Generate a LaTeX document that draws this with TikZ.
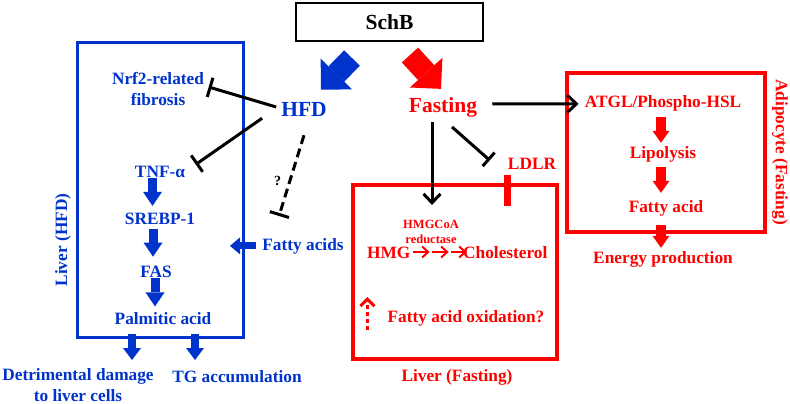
\documentclass[tikz,border=0pt]{standalone}
\usepackage{fontspec}
\setmainfont{Liberation Serif}
\usetikzlibrary{arrows.meta,calc}
\definecolor{hblue}{HTML}{0033CC}
\definecolor{fred}{HTML}{FF0000}
\begin{document}
\begin{tikzpicture}[x=1pt,y=-1pt,
  lbl/.style={inner sep=1pt, font=\fontsize{17.3}{20.4}\selectfont\bfseries},
  blbl/.style={lbl, text=hblue},
  rlbl/.style={lbl, text=fred},
  big/.style={inner sep=1pt, font=\fontsize{21.5}{25}\selectfont\bfseries},
  frame/.style={line width=#1, inner sep=0pt, outer sep=0pt},
  fatdiag/.style={line width=22pt, -{Triangle[length=22pt,width=44pt,line width=0pt]}},
  fatv/.style={hblue, line width=9pt, -{Triangle[length=14pt,width=19pt,line width=0pt]}},
  fath/.style={hblue, line width=7pt, -{Triangle[length=10pt,width=17pt,line width=0pt]}},
  fatd/.style={hblue, line width=8pt, -{Triangle[length=12pt,width=18pt,line width=0pt]}},
  fatr/.style={fred, line width=10pt, -{Triangle[length=12pt,width=17pt,line width=0pt]}},
  inhib/.style={black, line width=3pt, -{Bar[width=20pt]}},
  actarr/.style={black, line width=3pt, -{Straight Barb[length=9pt,width=17pt]}},
  hmgarr/.style={fred, line width=2pt, -{Straight Barb[length=6pt,width=11pt]}},
]
\useasboundingbox (0,0) rectangle (790,404);

% boxes
\node[frame=2pt, draw=black, minimum width=187pt, minimum height=38pt,
      font=\fontsize{21.5}{25}\selectfont\bfseries] (schb) at (389.5,22) {SchB};
\node[frame=3pt, draw=hblue, minimum width=166pt, minimum height=294pt] (lhfd) at (160,190) {};
\node[frame=3.5pt, draw=fred, minimum width=204pt, minimum height=174pt] (lfast) at (455,272) {};
\node[frame=4pt, draw=fred, minimum width=198pt, minimum height=159pt] (adipo) at (666,152.5) {};

% HFD side
\node[big, text=hblue, anchor=base] (hfd) at (304,116) {HFD};
\node[blbl, anchor=base, align=center] (nrf) at (158,105) {Nrf2-related\\fibrosis};
\node[blbl, anchor=base] (tnf) at (160,177) {TNF-α};
\node[blbl, anchor=base] (srebp) at (160,224) {SREBP-1};
\node[blbl, anchor=base] (fas) at (156,277) {FAS};
\node[blbl, anchor=base] (palm) at (163,324) {Palmitic acid};
\node[blbl, anchor=base] (fa) at (303,250) {Fatty acids};
\node[blbl, rotate=90] (lhfdlbl) at (63,240) {Liver (HFD)};
\node[blbl, anchor=base, align=center] (detr) at (78,401) {Detrimental damage\\to liver cells};
\node[blbl, anchor=base] (tg) at (237,382) {TG accumulation};
\node[font=\fontsize{14}{16}\selectfont\bfseries, inner sep=1pt, anchor=base] (q) at (277.5,185) {?};
\coordinate (dashend) at (279,216);

% Fasting side
\node[big, text=fred, anchor=base] (fast) at (443,112) {Fasting};
\node[rlbl, anchor=base] (ldlr) at (532,169) {LDLR};
\node[rlbl, anchor=base, align=center, font=\fontsize{12.5}{15}\selectfont\bfseries] (hmgcoa) at (431,243) {HMGCoA\\reductase};
\node[rlbl, anchor=base west] (hmg) at (366,258) {HMG};
\node[rlbl, anchor=base west] (chol) at (462,258) {Cholesterol};
\node[rlbl, anchor=base] (fao) at (466,322) {Fatty acid oxidation?};
\node[rlbl, anchor=base] (lfastlbl) at (457,381) {Liver (Fasting)};
\node[rlbl, anchor=base] (atgl) at (663,107) {ATGL/Phospho-HSL};
\node[rlbl, anchor=base] (lipo) at (663,158) {Lipolysis};
\node[rlbl, anchor=base] (fac) at (666,212) {Fatty acid};
\node[rlbl, anchor=base] (energy) at (663,263) {Energy production};
\node[rlbl, rotate=-90] (adlbl) at (780,152) {Adipocyte (Fasting)};

% SchB arrows
\draw[fatdiag, hblue] ($(schb.south)+(-37.5,17)$) -- ($(hfd.north)+(17,-11)$);
\draw[fatdiag, fred] ($(schb.south)+(20.5,14)$) -- ($(fast.north)+(-2,-7)$);

% HFD connectors
\draw[inhib] ($(hfd.west)+(-4,-2)$) -- ($(nrf.base east)+(3.5,-18)$);
\draw[inhib] ($(hfd.south west)+(-18,1)$) -- ($(tnf.north east)+(9.5,0)$);
\draw[inhib, dash pattern=on 9pt off 5pt] ($(hfd.south)+(0,18)$) -- (dashend);
\draw[fatv] ($(tnf.south)+(-7.5,0)$) -- ($(srebp.north)+(-7.5,-5.5)$);
\draw[fatv] ($(srebp.south)+(-7,4)$) -- ($(fas.north)+(-3,-7.7)$);
\draw[fatv] ($(fas.south)+(-1,0)$) -- ($(palm.north)+(-8,-4.4)$);
\draw[fath] ($(fa.west)+(-5,0)$) -- ($(lhfd.east |- fa.west)+(-13,0)$);
\draw[fatd] ($(lhfd.south)+(-28,-3)$) -- ($(lhfd.south)+(-28,23)$);
\draw[fatd] ($(lhfd.south)+(35,-3)$) -- ($(lhfd.south)+(35,23)$);

% Fasting connectors
\draw[actarr] ($(fast.east)+(14,-3)$) -- ($(atgl.west)+(-5,1)$);
\draw[actarr] ($(fast.south)+(-11,4)$) -- ($(lfast.north)+(-23,20)$);
\draw[inhib, -{Bar[width=18pt]}] ($(fast.south)+(9,9)$) -- ($(ldlr.west)+(-17,-3)$);
\draw[fred, line width=7pt] ($(lfast.north)+(52,-10)$) -- ++(0,31);
\draw[hmgarr] ($(hmg.base east)+(1,-6)$) -- ++(17,0);
\draw[hmgarr] ($(hmg.base east)+(20,-6)$) -- ++(17,0);
\draw[hmgarr] ($(hmg.base east)+(39,-6)$) -- ++(16,0);
\draw[fred, line width=3pt, dash pattern=on 4pt off 3pt, -{Straight Barb[length=7pt,width=14pt]}]
  ($(fao.base west)+(-19,8)$) -- ($(fao.base west)+(-19,-25)$);
\draw[fatr] ($(atgl.south)+(-2,5)$) -- ($(lipo.north)+(-2,-2)$);
\draw[fatr] ($(lipo.south)+(-2,4)$) -- ($(fac.north)+(-5,-6)$);
\draw[fatr] ($(fac.south)+(-5,8)$) -- ($(energy.north)+(-2,-2)$);
\end{tikzpicture}
\end{document}
